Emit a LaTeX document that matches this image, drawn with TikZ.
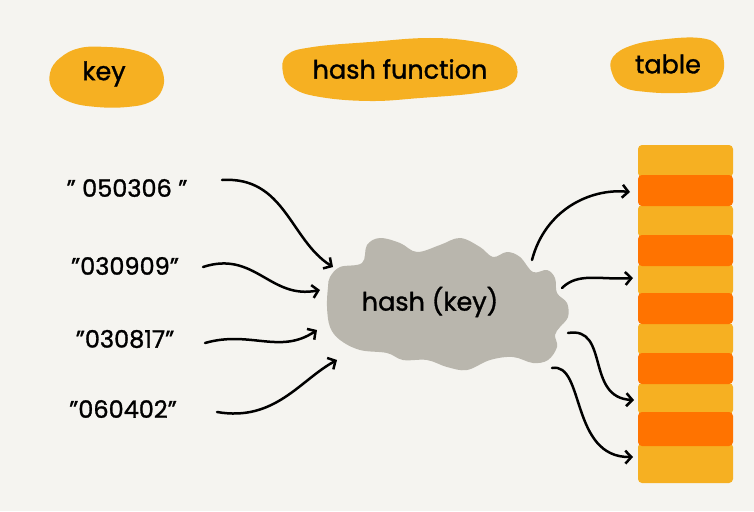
\documentclass[tikz,border=0pt]{standalone}
\usepackage{fontspec}
\setmainfont{Poppins}[FakeBold=1.2]
\usetikzlibrary{arrows.meta}
\definecolor{bgc}{HTML}{F5F4F0}
\definecolor{hl}{HTML}{F6B022}
\definecolor{org}{HTML}{FF7300}
\definecolor{cloudc}{HTML}{B9B6AD}
\tikzset{
  lbl/.style={font=\fontsize{25.5}{27}\selectfont, text=black, inner sep=0pt},
  keytxt/.style={font=\fontsize{24}{26}\selectfont, text=black, inner sep=0pt},
  arr/.style={line width=2.5pt, line cap=round, -{Straight Barb[length=6pt,width=13pt,line width=2.5pt]}},
  blob/.style={fill=hl},
  ycell/.style={fill=hl, rounded corners=4pt},
  ocell/.style={fill=org, rounded corners=4pt},
}
\begin{document}
\begin{tikzpicture}[x=1pt,y=-1pt]
\fill[bgc] (0,0) rectangle (754,511);
\useasboundingbox (0,0) rectangle (754,511);
% heading blobs
\fill[blob] plot[smooth cycle, tension=0.7] coordinates {(60,58) (80,48) (107,47) (133,50) (153,58) (163,73) (162,90) (150,102) (127,107) (97,107) (70,102) (53,90) (50,73)};
\fill[blob] plot[smooth cycle, tension=0.7] coordinates {(287,55) (313,47) (370,42) (430,38) (477,42) (503,50) (517,67) (510,85) (477,93) (420,98) (370,101) (320,97) (293,88) (283,73)};
\fill[blob] plot[smooth cycle, tension=0.7] coordinates {(613,57) (633,45) (667,39) (700,38) (717,45) (724,62) (720,80) (707,90) (680,93) (647,92) (623,87) (612,73)};
\node[lbl] (hkey) at (104,74) {key};
\node[lbl] (hfun) at (400,69) {hash function};
\node[lbl] (htab) at (668,64) {table};
% cloud
\fill[cloudc] plot[smooth cycle, tension=0.6] coordinates {(330,277) (340,267) (362,263) (367,245) (380,238) (400,243) (417,252) (440,245) (460,238) (480,247) (493,257) (507,252) (520,257) (533,272) (547,270) (555,278) (557,293) (567,303) (568,317) (560,327) (555,335) (557,347) (548,360) (533,363) (513,357) (490,360) (467,370) (447,367) (427,360) (403,360) (387,353) (360,350) (340,340) (330,327) (327,307) (328,287)};
\node[lbl] (hash) at (430,302) {hash (key)};
% table
\foreach \a/\b in {145/177,205/237,263/295,323/355,383/414,443/483}
  \fill[ycell] (638,\a) rectangle (733,\b);
\foreach \a/\b in {175/206,235/266,293/324,353/384,412/446}
  \fill[ocell] (638,\a) rectangle (733,\b);
% keys
\node[keytxt] (k1) at (127,188) {" 050306 "};
\node[keytxt] (k2) at (125,266) {"030909"};
\node[keytxt] (k3) at (125,339) {"030817"};
\node[keytxt] (k4) at (123,409) {"060402"};
\coordinate (s1) at (222,180);
\coordinate (s2) at (203,267);
\coordinate (s3) at (205,343);
\coordinate (s4) at (217,412);
\coordinate (i1) at (333,267);
\coordinate (i2) at (320,290);
\coordinate (i3) at (317,330);
\coordinate (i4) at (337,360);
\coordinate (o1) at (532,260);
\coordinate (o2) at (562,288);
\coordinate (o3) at (568,333);
\coordinate (o4) at (552,368);
\coordinate (t1) at (630,192);
\coordinate (t2) at (633,278);
\coordinate (t3) at (634,400);
\coordinate (t4) at (633,457);
\draw[arr] (s1) .. controls (285,176) and (290,240) .. (i1);
\draw[arr] (s2) .. controls (255,250) and (270,300) .. (i2);
\draw[arr] (s3) .. controls (250,330) and (280,355) .. (i3);
\draw[arr] (s4) .. controls (275,422) and (300,380) .. (i4);
\draw[arr] (o1) .. controls (545,210) and (590,188) .. (t1);
\draw[arr] (o2) .. controls (578,272) and (600,280) .. (t2);
\draw[arr] (o3) .. controls (610,326) and (585,398) .. (t3);
\draw[arr] (o4) .. controls (585,362) and (570,458) .. (t4);
\end{tikzpicture}
\end{document}
